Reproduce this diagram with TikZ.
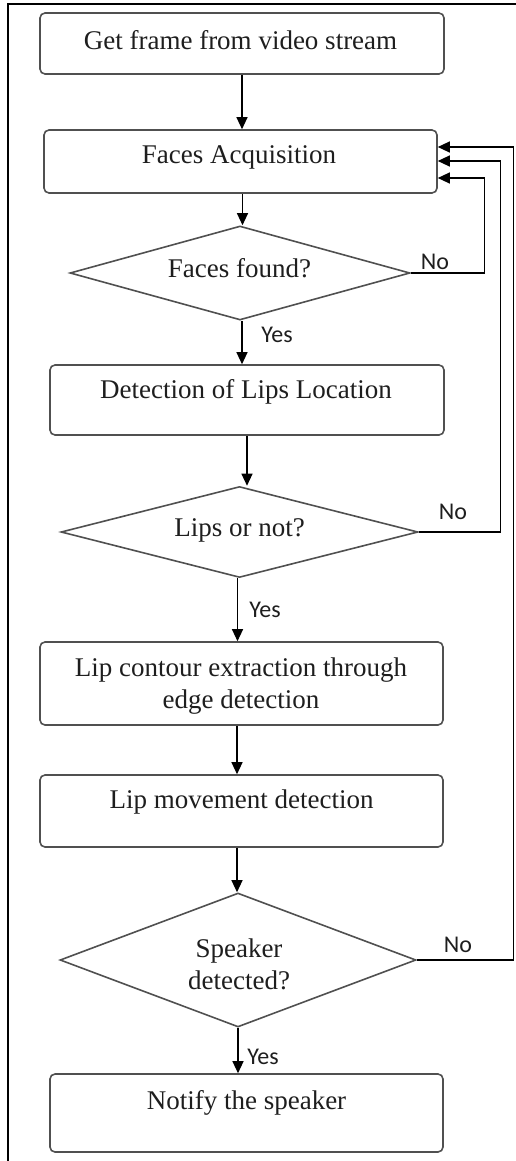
\documentclass[tikz,border=0pt]{standalone}
\usepackage{fontspec}
\setmainfont{Liberation Serif}
\newfontfamily\labelfont{Carlito}
\usetikzlibrary{arrows.meta, calc, positioning, shapes.geometric}
\definecolor{edgegray}{RGB}{80,80,80}
\definecolor{inkgray}{RGB}{30,30,30}
\tikzset{
  stepbox/.style={draw=edgegray, line width=0.8pt, rounded corners=2.5pt},
  decision/.style={draw=edgegray, line width=0.8pt, diamond, inner sep=0pt},
  flow/.style={-{Triangle[length=6pt,width=5.5pt]}, line width=0.6pt},
  txt/.style={font=\fontsize{13.5}{16}\selectfont, text=inkgray, align=center, inner sep=0pt},
  yesno/.style={font=\labelfont\fontsize{12}{14}\selectfont, text=inkgray, inner sep=0pt}
}

\begin{document}
\begin{tikzpicture}[x=0.5pt,y=-0.5pt]
            \useasboundingbox (0,0) rectangle (515,1161);
            % outer frame
            \draw[black,line width=1.4pt] (8,4) rectangle (530,1180);

            % process boxes
            \node[stepbox,minimum width=202pt,minimum height=30.5pt] (get) at (242,43.5) {};
            \node[txt] (tget) at (240.5,40) {Get frame from video stream};
            \node[stepbox,minimum width=196.5pt,minimum height=31.5pt] (acq) at (240.5,161.5) {};
            \node[txt] (tacq) at (239,157) {Faces Acquisition};
            \node[stepbox,minimum width=197pt,minimum height=35pt] (lipsloc) at (247,400) {};
            \node[txt] (tlipsloc) at (246,392) {Detection of Lips Location};
            \node[stepbox,minimum width=201.5pt,minimum height=41.5pt] (contour) at (241.5,683.5) {};
            \node[txt] (tcontour) at (241,686) {Lip contour extraction through\\edge detection};
            \node[stepbox,minimum width=201.5pt,minimum height=36pt] (movement) at (241.5,811) {};
            \node[txt] (tmovement) at (241.5,802) {Lip movement detection};
            \node[stepbox,minimum width=196.5pt,minimum height=39pt] (notify) at (246.5,1113) {};
            \node[txt] (tnotify) at (246.5,1103) {Notify the speaker};

            % decisions
            \node[decision,minimum width=170pt,minimum height=47pt] (found) at (240,273) {};
            \node[txt] (tfound) at (239.5,268) {Faces found?};
            \node[decision,minimum width=178.5pt,minimum height=45.5pt] (lips) at (239.5,532) {};
            \node[txt] (tlips) at (239.5,530) {Lips or not?};
            \node[decision,minimum width=178pt,minimum height=67pt] (speaker) at (238,960) {};
            \node[txt,text depth=0pt] (tspeaker) at (239,964) {Speaker\\detected?};

            % main flow
            \draw[flow] (get.south) -- (get.south |- acq.north);
            \draw[flow] ([xshift=1pt]acq.south) -- ([xshift=1pt]acq.south |- found.north);
            \draw[flow] ([xshift=1pt]found.south) -- ([xshift=1pt]found.south |- lipsloc.north);
            \draw[flow] (lipsloc.south) -- (lipsloc.south |- lips.north);
            \draw[flow] ([xshift=-1pt]lips.south) -- ([xshift=-1pt]lips.south |- contour.north);
            \draw[flow] ([xshift=-2.25pt]contour.south) -- ([xshift=-2.25pt]contour.south |- movement.north);
            \draw[flow] ([xshift=-2.25pt]movement.south) -- ([xshift=-2.25pt]movement.south |- speaker.north);
            \draw[flow] (speaker.south) -- (speaker.south |- notify.north);

            % feedback loops
            \draw[flow] (found.east) -- ++(74,0) |- ($(acq.east)+(0,16.5)$);
            \draw[flow] (lips.east) -- ++(82,0) |- ($(acq.east)+(0,-0.5)$);
            \draw[flow] (speaker.east) -- ++(97,0) |- ($(acq.east)+(0,-14.5)$);

            % branch labels
            \node[yesno] (yes1) at (277,335) {Yes};
            \node[yesno] (yes2) at (265,610) {Yes};
            \node[yesno] (yes3) at (263,1057) {Yes};
            \node[yesno] (no1) at (435,262) {No};
            \node[yesno] (no2) at (453,512) {No};
            \node[yesno] (no3) at (458,945) {No};
\end{tikzpicture}
\end{document}
